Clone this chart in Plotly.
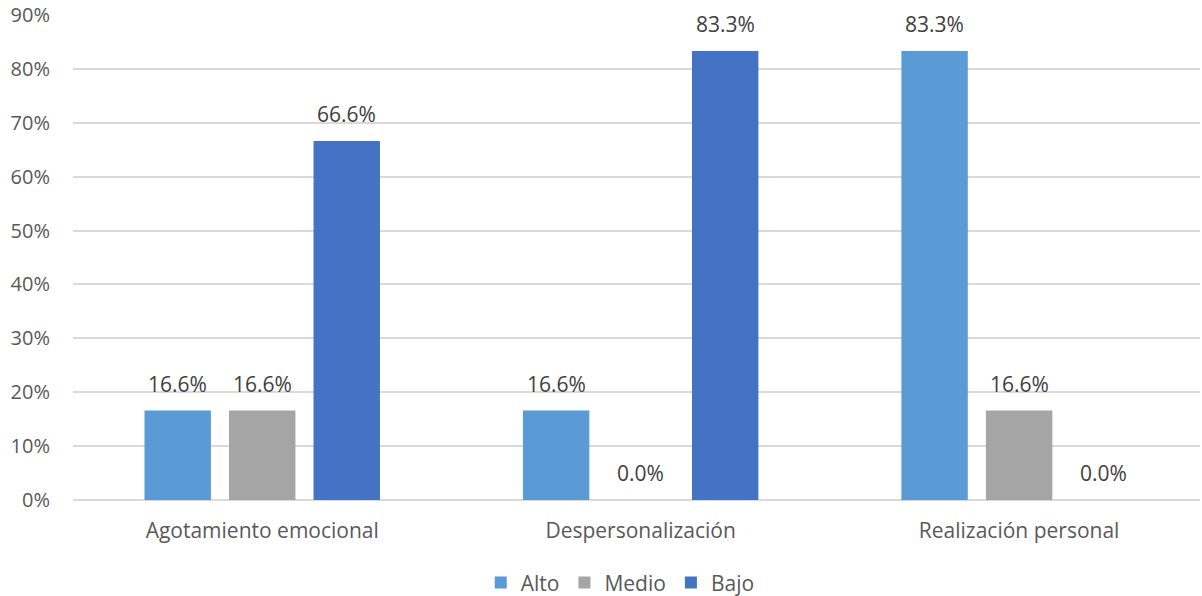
import plotly.graph_objects as go

categories = ["Agotamiento emocional", "Despersonalización", "Realización personal"]
alto = [16.6, 16.6, 83.3]
medio = [16.6, 0.0, 16.6]
bajo = [66.6, 83.3, 0.0]
series_names = ["Alto", "Medio", "Bajo"]
series_colors = ["#5B9BD5", "#A5A5A5", "#4472C4"]
y_ticks = [0, 10, 20, 30, 40, 50, 60, 70, 80, 90]
y_tick_labels = [f"{v}%" for v in y_ticks]

FONT = "'Open Sans', sans-serif"
BARGAP = 0.33
BARGROUPGAP = 0.214

series_values = [alto, medio, bajo]

fig = go.Figure()
for name, vals, color in zip(series_names, series_values, series_colors):
    fig.add_trace(go.Bar(
        name=name,
        x=categories,
        y=vals,
        marker=dict(color=color, line=dict(width=0)),
        hoverinfo="x+y+name",
    ))

# Value labels above each bar, placed at the bar's own center within its group
n = len(series_values)
slot = (1 - BARGAP) / n
for k, vals in enumerate(series_values):
    for i, v in enumerate(vals):
        xc = i - (1 - BARGAP) / 2 + slot * (k + 0.5)
        fig.add_annotation(
            x=xc, y=v, xref="x", yref="y",
            text=f"{v:.1f}%",
            showarrow=False,
            yanchor="bottom",
            yshift=11,
            font=dict(size=21, color="#404040", family=FONT),
        )

fig.update_layout(
    width=1202,
    height=596,
    margin=dict(l=73, r=2, t=15, b=96, autoexpand=False),
    barmode="group",
    bargap=BARGAP,
    bargroupgap=BARGROUPGAP,
    plot_bgcolor="white",
    paper_bgcolor="white",
    font=dict(family=FONT, size=21, color="#595959"),
    showlegend=True,
    legend=dict(
        orientation="h",
        x=0.516, xanchor="center", xref="container",
        y=0.022, yanchor="middle", yref="container",
        font=dict(size=21, color="#595959", family=FONT),
        itemwidth=30,
        traceorder="normal",
    ),
    xaxis=dict(
        range=[-0.5, 2.478],
        showgrid=False,
        showline=False,
        ticks="",
        automargin=False,
        ticklabelstandoff=16,
        tickfont=dict(size=21, color="#595959"),
    ),
    yaxis=dict(
        range=[0, 90],
        tickvals=y_ticks,
        ticktext=y_tick_labels,
        showgrid=True,
        gridcolor="#D9D9D9",
        gridwidth=1.5,
        zeroline=True,
        zerolinecolor="#D9D9D9",
        zerolinewidth=1.5,
        showline=False,
        ticks="",
        automargin=False,
        ticklabelstandoff=22,
        tickfont=dict(size=20, color="#595959"),
    ),
)

fig.write_html("out.html")
